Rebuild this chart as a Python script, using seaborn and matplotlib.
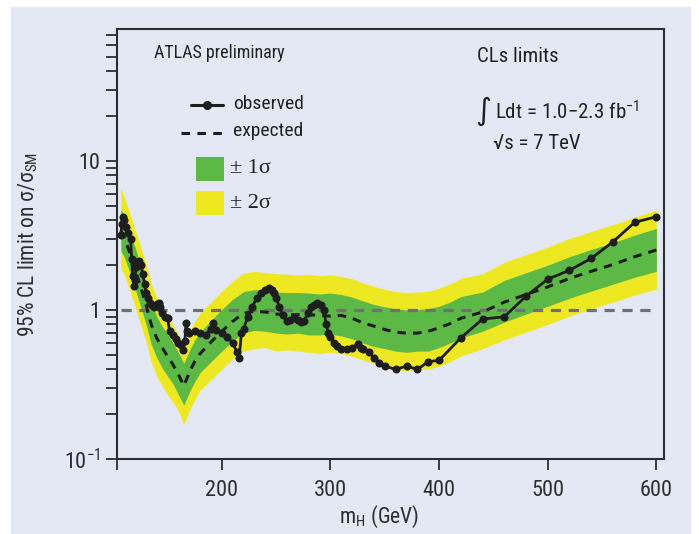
import matplotlib
matplotlib.use("Agg")
import matplotlib.pyplot as plt
import seaborn as sns
import pandas as pd
from matplotlib import font_manager
from matplotlib.patches import Rectangle
from matplotlib.lines import Line2D

# ---------------------------------------------------------------
# data
# ---------------------------------------------------------------
# observed 95% CL limit
obs_mass = [107, 108, 109, 110, 112, 114, 116, 117, 118, 119, 120, 121, 122, 124,
             126, 127, 129, 130, 132, 134, 136, 138, 140, 142, 143, 145, 148, 150,
             152, 155, 158, 160, 162, 164, 166, 167, 168, 170, 175, 180, 185, 190,
             192, 195, 200, 205, 210, 214, 216, 218, 220, 224, 228, 232, 236, 240,
             243, 246, 248, 250, 253, 256, 260, 263, 266, 270, 273, 276, 279, 282,
             285, 288, 291, 294, 296, 298, 300, 303, 306, 310, 315, 320, 325, 328,
             330, 335, 340, 345, 350, 360, 370, 380, 390, 400, 420, 440, 460, 480,
             500, 520, 540, 560, 580, 600]
obs_limit = [3.2, 3.8, 4.2, 4.0, 3.6, 3.3, 3.0, 2.2, 1.7, 1.45, 1.6, 1.95, 2.1, 2.15,
             2.0, 1.75, 1.5, 1.3, 1.2, 1.12, 1.08, 1.05, 1.1, 1.12, 1.05, 0.95, 0.9, 0.88,
             0.72, 0.68, 0.64, 0.6, 0.58, 0.54, 0.62, 0.82, 0.72, 0.70, 0.72, 0.70, 0.68, 0.75,
             0.82, 0.74, 0.70, 0.66, 0.60, 0.52, 0.48, 0.70, 0.75, 0.9, 1.05, 1.2, 1.3, 1.36,
             1.40, 1.36, 1.3, 1.2, 1.05, 0.92, 0.85, 0.86, 0.88, 0.86, 0.83, 0.85, 0.95, 1.05,
             1.08, 1.12, 1.08, 1.0, 0.80, 0.70, 0.66, 0.60, 0.57, 0.55, 0.55, 0.56, 0.59, 0.56,
             0.55, 0.52, 0.48, 0.44, 0.42, 0.40, 0.42, 0.40, 0.45, 0.46, 0.65, 0.87, 0.90, 1.24,
             1.61, 1.85, 2.22, 2.87, 3.88, 4.23]

# expected limit and the +-1 sigma / +-2 sigma bands
exp_mass = [107, 110, 115, 120, 125, 130, 135, 140, 145, 150, 155, 160, 165, 170,
             175, 180, 190, 200, 210, 220, 230, 240, 250, 260, 270, 280, 290, 300,
             310, 320, 330, 340, 350, 360, 370, 380, 390, 400, 410, 420, 440, 460,
             480, 500, 520, 540, 560, 580, 600]
exp_limit = [3.4, 3.1, 2.45, 1.9, 1.45, 1.1, 0.8, 0.65, 0.56, 0.49, 0.43, 0.37, 0.31, 0.38,
             0.45, 0.51, 0.61, 0.72, 0.84, 0.95, 0.98, 0.97, 0.94, 0.93, 0.93, 0.93, 0.92, 0.91,
             0.92, 0.88, 0.82, 0.78, 0.74, 0.71, 0.70, 0.70, 0.72, 0.76, 0.81, 0.88, 0.97, 1.13,
             1.27, 1.43, 1.63, 1.82, 2.02, 2.28, 2.53]
minus2 = [1.90, 1.74, 1.37, 1.06, 0.81, 0.62, 0.45, 0.36, 0.31, 0.27, 0.24, 0.21, 0.17, 0.21,
          0.25, 0.29, 0.34, 0.40, 0.47, 0.53, 0.55, 0.56, 0.53, 0.54, 0.53, 0.52, 0.51, 0.52,
          0.51, 0.49, 0.46, 0.44, 0.42, 0.40, 0.39, 0.40, 0.40, 0.42, 0.45, 0.49, 0.55, 0.63,
          0.71, 0.80, 0.91, 1.02, 1.13, 1.26, 1.38]
minus1 = [2.50, 2.29, 1.81, 1.40, 1.07, 0.81, 0.59, 0.48, 0.41, 0.36, 0.32, 0.27, 0.23, 0.28,
          0.33, 0.38, 0.45, 0.53, 0.62, 0.70, 0.73, 0.72, 0.70, 0.69, 0.70, 0.68, 0.68, 0.69,
          0.67, 0.64, 0.60, 0.57, 0.55, 0.53, 0.52, 0.53, 0.53, 0.56, 0.60, 0.65, 0.72, 0.83,
          0.94, 1.06, 1.20, 1.34, 1.49, 1.66, 1.82]
plus1 = [4.75, 4.34, 3.43, 2.66, 2.03, 1.54, 1.12, 0.91, 0.78, 0.69, 0.60, 0.52, 0.44, 0.53,
         0.63, 0.71, 0.85, 1.01, 1.18, 1.33, 1.37, 1.36, 1.32, 1.31, 1.31, 1.30, 1.28, 1.30,
         1.27, 1.22, 1.15, 1.09, 1.05, 1.02, 1.00, 1.01, 1.02, 1.06, 1.13, 1.23, 1.32, 1.58,
         1.78, 2.00, 2.28, 2.55, 2.83, 3.18, 3.53]
plus2 = [6.6, 5.8, 4.55, 3.5, 2.7, 2.05, 1.50, 1.21, 1.04, 0.91, 0.80, 0.69, 0.58, 0.71,
         0.84, 0.95, 1.13, 1.34, 1.56, 1.77, 1.82, 1.78, 1.76, 1.74, 1.72, 1.74, 1.70, 1.72,
         1.68, 1.62, 1.52, 1.44, 1.38, 1.33, 1.31, 1.32, 1.34, 1.40, 1.50, 1.63, 1.75, 2.09,
         2.35, 2.65, 3.02, 3.37, 3.74, 4.2, 4.7]

obs_df = pd.DataFrame({"mass": obs_mass, "limit": obs_limit})
exp_df = pd.DataFrame({"mass": exp_mass, "limit": exp_limit,
                       "m2": minus2, "m1": minus1, "p1": plus1, "p2": plus2})

# ---------------------------------------------------------------
# style - look for a narrow sans font, the original uses a condensed face
# ---------------------------------------------------------------
sns.set_style("ticks")
names = {f.name for f in font_manager.fontManager.ttflist}
narrow = [n for n in ["Roboto Condensed", "Liberation Sans Narrow", "Open Sans Condensed",
                      "DejaVu Sans Condensed"] if n in names]
plt.rcParams['font.family'] = narrow + ['DejaVu Sans']
if not narrow:
    plt.rcParams['font.stretch'] = 'condensed'
plt.rcParams['mathtext.default'] = 'regular'

panel = "#e4e8f4"
green = "#5cb946"
yellow = "#eee823"
ink = "#1e1e1e"
axis_col = "#2e2e2e"

fig = plt.figure(figsize=(6.99, 5.34), dpi=100)
fig.patch.set_facecolor("white")
fig.add_artist(Rectangle((11 / 699, 0), 679 / 699, 527 / 534,
                         transform=fig.transFigure, color=panel, zorder=-10))

ax = fig.add_axes([117 / 699, 75 / 534, 547 / 699, 430 / 534])
ax.set_facecolor(panel)

# bands
ax.fill_between(exp_df["mass"], exp_df["m2"], exp_df["p2"], color=yellow, lw=0, zorder=1)
ax.fill_between(exp_df["mass"], exp_df["m1"], exp_df["p1"], color=green, lw=0, zorder=2)

# SM line at 1
ax.axhline(1, color="#707070", lw=2.3, dashes=(3.2, 2.4), zorder=3,
           xmin=(107 - 103.5) / 503.5, xmax=(600 - 103.5) / 503.5)

# expected and observed
sns.lineplot(data=exp_df, x="mass", y="limit", ax=ax, color=ink, lw=2.2,
             estimator=None, zorder=4)
ax.lines[-1].set_dashes((2.8, 2.3))
sns.lineplot(data=obs_df, x="mass", y="limit", ax=ax, color=ink, lw=2.0,
             marker="o", markersize=5.8, markeredgewidth=0, estimator=None, zorder=5)

ax.set_yscale("log")
ax.set_xlim(103.5, 607)
ax.set_ylim(0.1, 77)

ax.set_xticks([103.5, 200, 300, 400, 500, 600], ["", "200", "300", "400", "500", "600"])
ax.set_yticks([0.1, 1, 10], [r"$10^{-1}$", "1", "10"])
ax.tick_params(axis="both", direction="out", length=8, width=1.3, color=axis_col,
               labelsize=16, labelcolor=axis_col)
ax.tick_params(axis="y", which="minor", direction="out", length=8, width=1.3, color=axis_col)
ax.tick_params(axis="y", pad=4)
ax.tick_params(axis="x", pad=7)
for s in ax.spines.values():
    s.set_color(axis_col)
    s.set_linewidth(1.5)

ax.set_xlabel("m$_{H}$ (GeV)", fontsize=15.5, color=axis_col)
ax.set_ylabel("95% CL limit on σ/σ$_{SM}$", fontsize=15.5, color=axis_col)
ax.xaxis.set_label_coords(0.479, -0.105)
ax.yaxis.set_label_coords(-0.14, 0.5)

# ---------------------------------------------------------------
# annotations and legend (axes fraction)
# ---------------------------------------------------------------
tkw = dict(transform=ax.transAxes, color="#222222", va="center", ha="left")
ax.text(0.0676, 0.9442, "ATLAS preliminary", fontsize=13, **tkw)
ax.text(0.658, 0.937, "CLs limits", fontsize=15, **tkw)
ax.text(0.655, 0.809, "∫", fontsize=22, family="DejaVu Sans", **tkw)
ax.text(0.691, 0.807, "Ldt = 1.0−2.3 fb$^{-1}$", fontsize=15, **tkw)
ax.text(0.6874, 0.7349, "√s = 7 TeV", fontsize=15, **tkw)

ax.add_line(Line2D([0.1345, 0.1938], [0.8233, 0.8233], transform=ax.transAxes,
                   color=ink, lw=2.2, clip_on=False))
ax.add_line(Line2D([0.1638], [0.8233], transform=ax.transAxes, color=ink,
                   marker="o", markersize=5.5, clip_on=False))
ax.text(0.2121, 0.8256, "observed", fontsize=14, **tkw)
ax.add_line(Line2D([0.117, 0.1938], [0.7588, 0.7588], transform=ax.transAxes,
                   color=ink, lw=2.2, dashes=(2.8, 2.4), clip_on=False))
ax.text(0.2121, 0.7628, "expected", fontsize=14, **tkw)
ax.add_patch(Rectangle((0.1444, 0.6465), 0.0512, 0.0565, transform=ax.transAxes,
                       color=green, lw=0))
ax.text(0.2066, 0.6767, "± 1σ", fontsize=16, family=["Liberation Serif", "DejaVu Serif"], **tkw)
ax.add_patch(Rectangle((0.1444, 0.5674), 0.0512, 0.0558, transform=ax.transAxes,
                       color=yellow, lw=0))
ax.text(0.2066, 0.5953, "± 2σ", fontsize=16, family=["Liberation Serif", "DejaVu Serif"], **tkw)

fig.savefig("out.png", dpi=100, facecolor=fig.get_facecolor())
